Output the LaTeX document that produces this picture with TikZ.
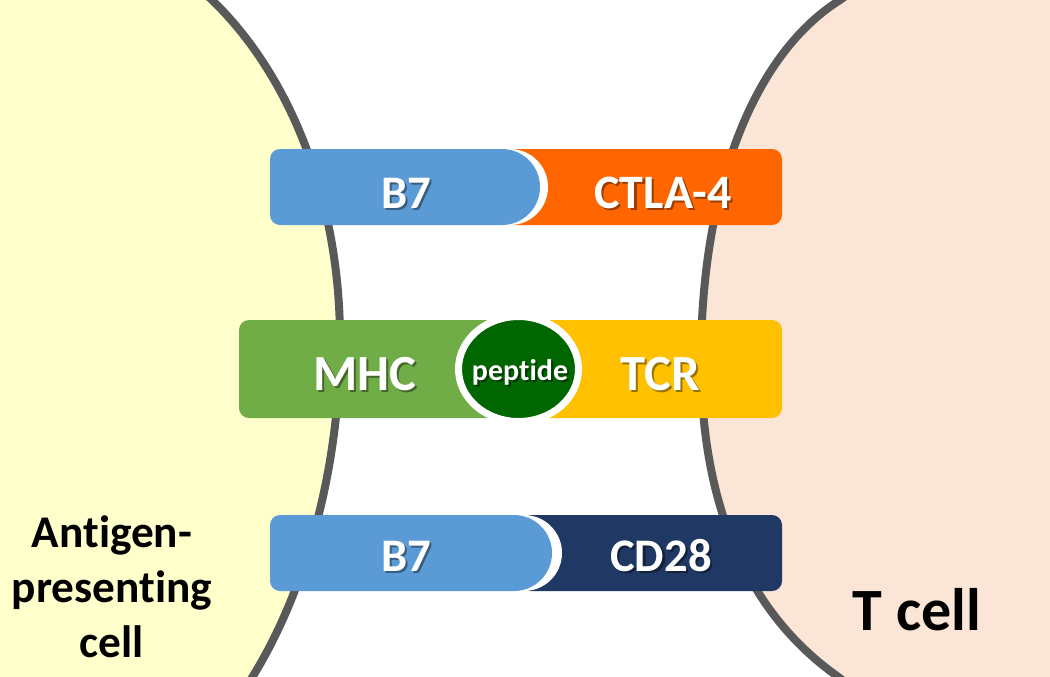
\documentclass[tikz,border=0pt]{standalone}
\usepackage{fontspec}
\setmainfont{Carlito}[Ligatures=NoCommon]
\definecolor{apcfill}{HTML}{FFFFCC}
\definecolor{tfill}{HTML}{FBE5D6}
\definecolor{membrane}{HTML}{595959}
\definecolor{b7blue}{HTML}{5B9BD5}
\definecolor{ctlaorange}{HTML}{FF6600}
\definecolor{mhcgreen}{HTML}{70AD47}
\definecolor{tcryellow}{HTML}{FFC000}
\definecolor{cdnavy}{HTML}{1F3864}
\definecolor{pepgreen}{HTML}{006600}
\newcommand{\shd}[1]{\makebox[0pt][l]{\begin{pgfscope}\pgfsetfillopacity{0.4}\color{black}\hspace{1.6pt}\raisebox{-1.6pt}{#1}\end{pgfscope}}#1}
\newcommand{\leftmem}{(191,-20) -- (212,0) .. controls (290,75) and (340,200) .. (340,340) .. controls (340,480) and (300,600) .. (253,676) -- (240,697)}
\newcommand{\rightmem}{(868,-20) -- (840,0) .. controls (748,58) and (701,200) .. (701,360) .. controls (701,505) and (747,612) .. (837,676) -- (863,696)}
\tikzset{
  membraneline/.style={draw=membrane, line width=6pt},
  lbl/.style={text=white, font=\bfseries\fontsize{35}{40}\selectfont, anchor=base, inner sep=0pt},
  lblm/.style={lbl, font=\bfseries\fontsize{38}{44}\selectfont},
  peplbl/.style={lbl, font=\bfseries\fontsize{22.5}{26}\selectfont},
  celllbl/.style={text=black, font=\bfseries\fontsize{34}{41.25}\selectfont, anchor=base, inner sep=0pt, align=center},
  bar/.style={rounded corners=7.5pt}
}
\begin{document}
\begin{tikzpicture}[x=0.75pt,y=-0.75pt]
\useasboundingbox (0,0) rectangle (1050,676);
% cells
\fill[apcfill] (0,-20) -- \leftmem -- (0,697) -- cycle;
\fill[tfill] (1060,-20) -- \rightmem -- (1060,697) -- cycle;
\draw[membraneline] \leftmem;
\draw[membraneline] \rightmem;
% top bar
\fill[ctlaorange, bar] (500,149) rectangle (782,225);
\fill[white] (400,149) -- (510,149) .. controls (531,149) and (548,166) .. (548,187) .. controls (548,208) and (531,225) .. (510,225) -- (400,225) -- cycle;
\fill[b7blue] (280,149) -- (502,149) .. controls (523,149) and (540,166) .. (540,187) .. controls (540,208) and (523,225) .. (502,225) -- (280,225) .. controls (274.5,225) and (270,220.5) .. (270,215) -- (270,159) .. controls (270,153.5) and (274.5,149) .. (280,149) -- cycle;
% middle bar
\fill[mhcgreen, bar] (239,320) rectangle (540,418);
\fill[tcryellow, bar] (500,320) rectangle (782,418);
\filldraw[fill=pepgreen, draw=white, line width=5.25pt] (518.5,369) ellipse [x radius=60, y radius=52.5];
% bottom bar
\fill[cdnavy, bar] (520,515) rectangle (782,591);
\fill[white] (400,515) -- (524,515) .. controls (545,515) and (562,532) .. (562,553) .. controls (562,574) and (545,591) .. (524,591) -- (400,591) -- cycle;
\fill[b7blue] (280,515) -- (514,515) .. controls (535,515) and (552,532) .. (552,553) .. controls (552,574) and (535,591) .. (514,591) -- (280,591) .. controls (274.5,591) and (270,586.5) .. (270,581) -- (270,525) .. controls (270,519.5) and (274.5,515) .. (280,515) -- cycle;
% labels
\node[lbl] (b7top) at (406,208) {\shd{B7}};
\node[lbl, font=\bfseries\fontsize{36}{40}\selectfont] (ctla) at (663,208) {\shd{CTLA-4}};
\node[lblm] (mhc) at (365,390) {\shd{MHC}};
\node[peplbl] (pep) at (520,380) {\shd{peptide}};
\node[lblm] (tcr) at (660,390) {\shd{TCR}};
\node[lbl] (b7bot) at (406,571) {\shd{B7}};
\node[lbl] (cd) at (661,571) {\shd{CD28}};
\node[celllbl] (apc) at (112,657) {Antigen-\\presenting\\cell};
\node[celllbl, font=\bfseries\fontsize{45}{50}\selectfont] (tcell) at (917,630) {T cell};
\end{tikzpicture}
\end{document}
